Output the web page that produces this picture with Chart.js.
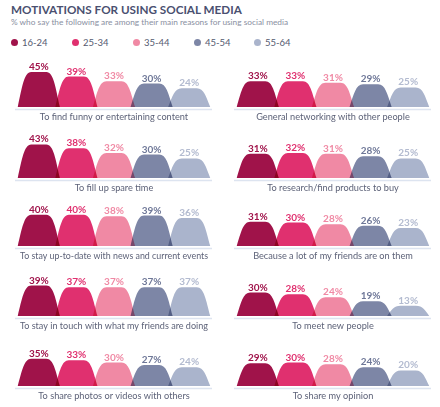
<!DOCTYPE html>
<html>
<script src="https://cdn.jsdelivr.net/npm/chart.js@4/dist/chart.umd.min.js"></script>
<body style="margin:0;background:#fff;width:440px;height:407px;position:relative;overflow:hidden;font-family:Lato, sans-serif;">
  <div style="position:absolute;left:11px;top:2px;font-weight:bold;font-size:11.7px;color:#4a5070;">MOTIVATIONS FOR USING SOCIAL MEDIA</div>
  <div style="position:absolute;left:11px;top:17px;font-size:8.3px;color:#8a8fa2;">% who say the following are among their main reasons for using social media</div>
  <div id="legend"></div>
  <div id="panels"></div>
  <script>
    const ageGroups = ["16-24", "25-34", "35-44", "45-54", "55-64"];
    const groupColors = ["#a0134a", "#e0306f", "#f089a4", "#7d86a6", "#aab4cc"];
    const labelColors = ["#a0134a", "#e0306f", "#f089a4", "#6f7898", "#b3bbd0"];

    const reasons = [
      "To find funny or entertaining content",
      "General networking with other people",
      "To fill up spare time",
      "To research/find products to buy",
      "To stay up-to-date with news and current events",
      "Because a lot of my friends are on them",
      "To stay in touch with what my friends are doing",
      "To meet new people",
      "To share photos or videos with others",
      "To share my opinion",
    ];
    const values = [
      [45, 39, 33, 30, 24],
      [33, 33, 31, 29, 25],
      [43, 38, 32, 30, 25],
      [31, 32, 31, 28, 25],
      [40, 40, 38, 39, 36],
      [31, 30, 28, 26, 23],
      [39, 37, 37, 37, 37],
      [30, 28, 24, 19, 13],
      [35, 33, 30, 27, 24],
      [29, 30, 28, 24, 20],
    ];

    // legend
    const legend = document.getElementById("legend");
    const legendX = [11, 72, 133, 194, 254];
    ageGroups.forEach((g, i) => {
      const item = document.createElement("div");
      item.style.cssText = "position:absolute;top:37px;left:" + legendX[i] + "px;font-size:9.5px;color:#555a70;display:flex;align-items:center;";
      item.innerHTML = '<span style="display:inline-block;width:7px;height:7px;border-radius:50%;background:' + groupColors[i] + ';margin-right:4px;"></span>' + g;
      legend.appendChild(item);
    });

    // draws each bar as a rounded hump, overlaps get darker
    const humpPlugin = {
      id: "hump",
      beforeDatasetsDraw(chart) {
        const ctx = chart.ctx;
        const meta = chart.getDatasetMeta(0);
        ctx.save();
        // baseline
        ctx.strokeStyle = "#dde4f0";
        ctx.lineWidth = 1.5;
        ctx.beginPath();
        ctx.moveTo(1, chart.chartArea.bottom + 2.5);
        ctx.lineTo(chart.width - 2, chart.chartArea.bottom + 2.5);
        ctx.stroke();

        ctx.globalCompositeOperation = "multiply";
        meta.data.forEach((el) => {
          const w = el.width * 1.12;
          const h = el.base - el.y;
          const L = el.x - w / 2;
          const R = el.x + w / 2;
          ctx.fillStyle = el.options.backgroundColor;
          ctx.beginPath();
          ctx.moveTo(L, el.base);
          ctx.bezierCurveTo(L + w * 0.1, el.base - h * 0.55, L + w * 0.15, el.y, L + w * 0.32, el.y);
          ctx.lineTo(R - w * 0.32, el.y);
          ctx.bezierCurveTo(R - w * 0.15, el.y, R - w * 0.1, el.base - h * 0.55, R, el.base);
          ctx.closePath();
          ctx.fill();
        });
        ctx.globalCompositeOperation = "source-over";

        ctx.font = "bold 10px Lato";
        ctx.textAlign = "center";
        ctx.textBaseline = "alphabetic";
        const data = chart.data.datasets[0].data;
        meta.data.forEach((el, i) => {
          ctx.fillStyle = labelColors[i];
          ctx.fillText(data[i] + "%", el.x, el.y - 2);
        });
        ctx.restore();
        return false;
      },
    };

    const baselines = [107, 178, 246, 316, 386];
    const panels = document.getElementById("panels");
    reasons.forEach((reason, k) => {
      const row = Math.floor(k / 2);
      const col = k % 2;
      const canvas = document.createElement("canvas");
      canvas.width = 200;
      canvas.height = 70;
      canvas.style.cssText = "position:absolute;left:" + (col ? 233 : 14) + "px;top:" + (baselines[row] - 52) + "px;";
      panels.appendChild(canvas);

      new Chart(canvas, {
        type: "bar",
        data: {
          labels: ageGroups,
          datasets: [
            {
              data: values[k],
              backgroundColor: groupColors,
              barPercentage: 1,
              categoryPercentage: 1,
            },
          ],
        },
        options: {
          responsive: false,
          animation: false,
          layout: { padding: { top: 13, left: 6, right: 6, bottom: 0 } },
          scales: {
            x: { display: false },
            y: { display: false, min: 0, max: 50 },
          },
          plugins: {
            legend: { display: false },
            tooltip: { enabled: false },
            title: {
              display: true,
              position: "bottom",
              text: reason,
              color: "#5d6278",
              font: { family: "Lato", size: 9.2, weight: "normal" },
              padding: { top: 5, bottom: 2 },
            },
          },
        },
        plugins: [humpPlugin],
      });
    });
  </script>
</body>
</html>
